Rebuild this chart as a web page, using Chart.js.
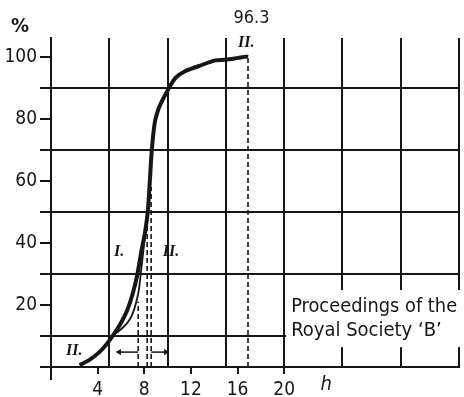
<!DOCTYPE html>
<html>
<head>
<meta charset="utf-8">
<script src="https://cdn.jsdelivr.net/npm/chart.js@4.4.0/dist/chart.umd.min.js"></script>
<style>
html,body{margin:0;padding:0;background:#fff}
#wrap{width:464px;height:397px}
</style>
</head>
<body>
<div id="wrap"><canvas id="c"></canvas></div>
<script>
// curve II (thick) - hours vs percent
var hoursII = [2.45, 3.3, 4.15, 4.8, 5.28, 5.9, 6.55, 7.0, 7.4, 7.77, 8.05, 8.3, 8.48, 8.65, 8.9, 9.2, 9.5, 10.05, 10.7, 11.5, 12.65, 14.1, 14.95, 16.05, 16.75, 16.9];
var pctII   = [0.6, 2.3, 4.8, 7.5, 10, 13.5, 18.4, 23.5, 29.7, 37.7, 43, 50, 60, 70, 78.7, 82.9, 85.5, 89.4, 93.2, 95.3, 96.9, 98.8, 99, 99.6, 100, 99.8];
// curve I (thin)
var hoursI = [5.28, 6.2, 6.75, 7.12, 7.5, 7.69, 7.85, 8.0, 8.2];
var pctI   = [10, 12.8, 15.3, 18.4, 24, 29.7, 35, 40, 46];
// dashed verticals
var dashX   = [7.48, 8.25, 8.59, 16.9];
var dashTop = [21, 47, 58, 99.8];
// arrows
var arrowFrom  = [7.48, 8.59];
var arrowTo    = [5.85, 9.85];
var arrowLevel = 4.8;
// axes
var xTicks  = [0, 4, 5, 8, 10, 12, 15, 16, 20, 25, 30, 35];
var xLabels = [4, 8, 12, 16, 20];
var yTicks  = [0, 10, 20, 30, 40, 50, 60, 70, 80, 90, 100];
var yLabels = [20, 40, 60, 80, 100];

var ink = '#161616';
var FONT = '"Liberation Sans Narrow", "DejaVu Sans Condensed", "Liberation Sans", sans-serif';
Chart.defaults.font.family = FONT;
Chart.defaults.color = ink;

function pts(xs, ys) {
  var out = [];
  for (var i = 0; i < xs.length; i++) out.push({x: xs[i], y: ys[i]});
  return out;
}

var datasets = [
  {data: pts(hoursII, pctII), borderColor: ink, borderWidth: 4, pointRadius: 0, tension: 0.3},
  {data: pts(hoursI, pctI), borderColor: ink, borderWidth: 1.8, pointRadius: 0, tension: 0.3}
];
for (var i = 0; i < dashX.length; i++) {
  datasets.push({data: [{x: dashX[i], y: 0}, {x: dashX[i], y: dashTop[i]}],
    borderColor: ink, borderWidth: 1.6, borderDash: [5, 3], pointRadius: 0});
}
for (var j = 0; j < arrowFrom.length; j++) {
  datasets.push({data: [{x: arrowFrom[j], y: arrowLevel}, {x: arrowTo[j], y: arrowLevel}],
    borderColor: ink, borderWidth: 1.5, pointStyle: 'triangle',
    pointRadius: function(c) { return c.dataIndex === 1 ? 3.5 : 0; },
    pointRotation: arrowTo[j] < arrowFrom[j] ? -90 : 90,
    pointBackgroundColor: ink, pointBorderColor: ink, pointBorderWidth: 0});
}

var notes = {
  id: 'notes',
  afterDraw: function(chart) {
    var ctx = chart.ctx, xs = chart.scales.x, ys = chart.scales.y, a = chart.chartArea;
    ctx.save();
    // y axis runs a little below the x axis
    ctx.strokeStyle = ink; ctx.lineWidth = 2;
    ctx.beginPath(); ctx.moveTo(a.left, a.bottom); ctx.lineTo(a.left, a.bottom + 13); ctx.stroke();
    // white box for the source note
    var bx = xs.getPixelForValue(20) + 2, by = ys.getPixelForValue(24.8), by2 = ys.getPixelForValue(6.4);
    ctx.fillStyle = '#fff';
    ctx.fillRect(bx, by, a.right + 2 - bx, by2 - by);
    ctx.fillStyle = ink;
    ctx.textAlign = 'left'; ctx.textBaseline = 'alphabetic';
    ctx.font = '20px ' + FONT;
    ctx.fillText('Proceedings of the', bx + 5, by + 22, 166);
    ctx.fillText('Royal Society \u2018B\u2019', bx + 5, by + 46, 160);
    // curve labels
    ctx.font = 'italic bold 16px "Liberation Serif", serif';
    ctx.textAlign = 'center'; ctx.textBaseline = 'middle';
    ctx.fillText('I.', xs.getPixelForValue(5.85), ys.getPixelForValue(37));
    ctx.fillText('II.', xs.getPixelForValue(10.3), ys.getPixelForValue(37));
    ctx.fillText('II.', xs.getPixelForValue(2.0), ys.getPixelForValue(5.2));
    ctx.fillText('II.', xs.getPixelForValue(16.75), ys.getPixelForValue(104.5));
    // top value, units
    ctx.font = '18px ' + FONT;
    ctx.fillText('96.3', xs.getPixelForValue(17.2), 18);
    ctx.font = 'bold 20px ' + FONT;
    ctx.fillText('%', 20, 27);
    ctx.font = 'italic 20px ' + FONT;
    ctx.fillText('h', xs.getPixelForValue(23.6), a.bottom + 18);
    ctx.restore();
  }
};

new Chart(document.getElementById('c'), {
  type: 'scatter',
  data: {datasets: datasets},
  options: {
    responsive: true,
    maintainAspectRatio: false,
    animation: false,
    showLine: true,
    layout: {padding: {top: 38, right: 1, left: 0, bottom: 0}},
    plugins: {legend: {display: false}, tooltip: {enabled: false}},
    scales: {
      x: {
        type: 'linear', min: 0, max: 35,
        afterBuildTicks: function(s) { s.ticks = xTicks.map(function(v) { return {value: v}; }); },
        afterFit: function(s) { s.height = 30; },
        ticks: {
          autoSkip: false, maxRotation: 0, padding: 5,
          font: {size: 19},
          callback: function(v) { return xLabels.indexOf(v) >= 0 ? String(v) : ''; }
        },
        grid: {
          lineWidth: 2, tickLength: 7,
          color: function(c) { return c.tick && c.tick.value > 0 && c.tick.value % 5 === 0 ? ink : 'rgba(0,0,0,0)'; },
          tickColor: function(c) { return c.tick && (c.tick.value === 0 || xLabels.indexOf(c.tick.value) >= 0) ? ink : 'rgba(0,0,0,0)'; }
        },
        border: {display: true, color: ink, width: 2}
      },
      y: {
        min: 0, max: 106,
        afterBuildTicks: function(s) { s.ticks = yTicks.map(function(v) { return {value: v}; }); },
        afterFit: function(s) { s.width = 51; },
        ticks: {
          autoSkip: false, padding: 3,
          font: {size: 19},
          callback: function(v) { return yLabels.indexOf(v) >= 0 ? String(v) : ''; }
        },
        grid: {
          lineWidth: 2, tickLength: 11,
          color: function(c) { return c.tick && c.tick.value % 20 === 10 ? ink : 'rgba(0,0,0,0)'; },
          tickColor: ink
        },
        border: {display: true, color: ink, width: 2}
      }
    }
  },
  plugins: [notes]
});
</script>
</body>
</html>
